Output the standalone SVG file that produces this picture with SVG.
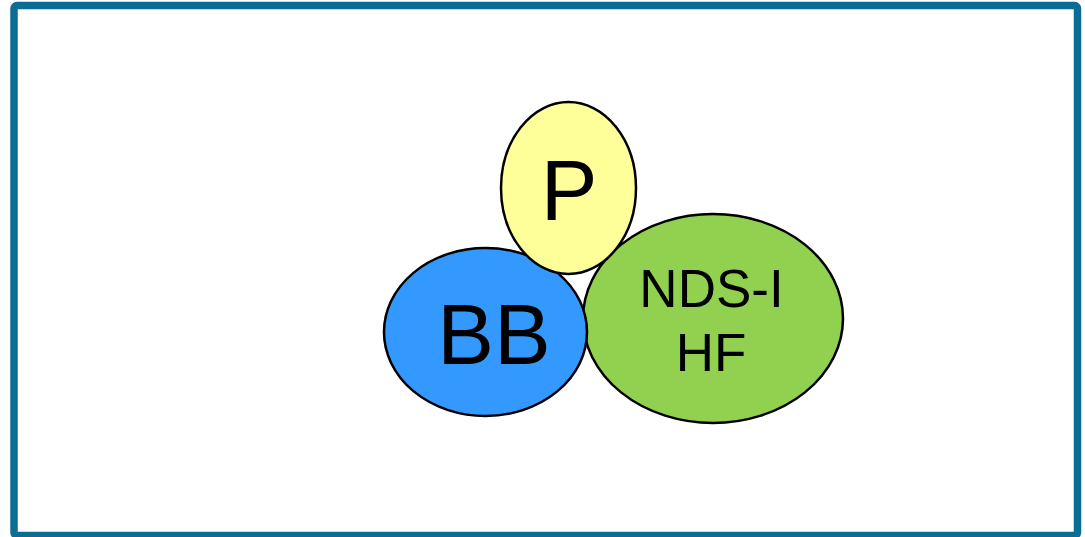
<svg xmlns="http://www.w3.org/2000/svg" width="1085" height="537" viewBox="0 0 1085 537">
<style>
.n{stroke:#000;stroke-width:2.5}
.t{font-family:"Liberation Sans",Arial,sans-serif;fill:#000;text-anchor:middle}
</style>
<rect width="1085" height="537" fill="#fff"/>
<rect x="14" y="5.5" width="1063.5" height="530" rx="3" fill="none" stroke="#0b6d93" stroke-width="7.5"/>
<g id="nds">
<ellipse class="n" cx="713" cy="318.5" rx="130" ry="104.5" fill="#92d050"/>
<text class="t" x="711.5" y="307" font-size="53">NDS-I</text>
<text class="t" x="711" y="371" font-size="53">HF</text>
</g>
<g id="bb">
<ellipse class="n" cx="485.5" cy="332" rx="101.5" ry="84" fill="#3399ff"/>
<text class="t" x="494" y="364" font-size="85">BB</text>
</g>
<g id="p">
<ellipse class="n" cx="568.5" cy="188" rx="67.5" ry="86" fill="#ffff99"/>
<text class="t" x="569" y="220" font-size="85">P</text>
</g>
<g id="connectors"/>
</svg>
